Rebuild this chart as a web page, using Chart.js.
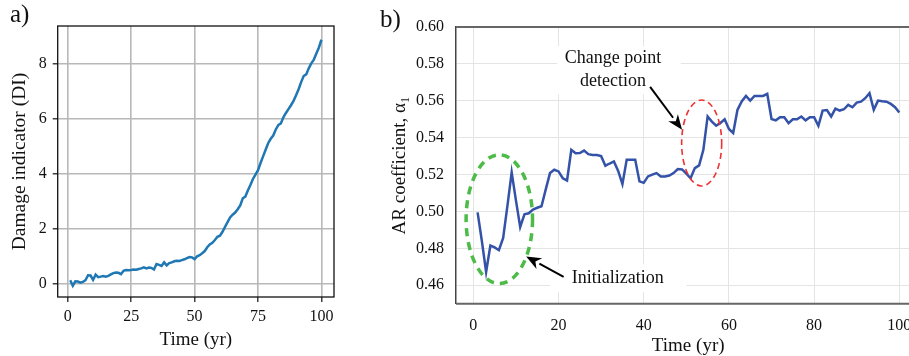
<!DOCTYPE html>
<html>
<head>
<meta charset="utf-8">
<script src="https://cdn.jsdelivr.net/npm/chart.js@4.4.1/dist/chart.umd.min.js"></script>
<style>
  html, body { margin: 0; padding: 0; background: #fff; overflow: hidden; width: 909px; height: 356px; }
  .panel { position: absolute; top: 0; }
  .etiqueta { position: absolute; font-family: "Liberation Serif", serif; color: #111; line-height: 1; }
</style>
</head>
<body>
<canvas id="graficoA" class="panel" width="345" height="356" style="left:0px"></canvas>
<canvas id="graficoB" class="panel" width="555" height="356" style="left:380px"></canvas>
<div class="etiqueta" style="left:10px; top:1px; font-size:25px;">a)</div>
<div class="etiqueta" style="left:380px; top:6px; font-size:25px;">b)</div>
<script>
// años de 1 a 100
const anios = [];
for (let i = 1; i <= 100; i++) anios.push(i);

// a) indicador de daño
const indicadorDano = [
  0.14, -0.06, 0.10, 0.09, 0.05, 0.08, 0.14, 0.32, 0.31, 0.15,
  0.34, 0.25, 0.27, 0.29, 0.27, 0.30, 0.35, 0.40, 0.42, 0.41,
  0.36, 0.48, 0.51, 0.50, 0.51, 0.53, 0.52, 0.55, 0.57, 0.61,
  0.57, 0.60, 0.59, 0.53, 0.73, 0.70, 0.66, 0.79, 0.68, 0.76,
  0.79, 0.83, 0.85, 0.84, 0.87, 0.90, 0.94, 0.98, 0.97, 0.91,
  1.01, 1.05, 1.12, 1.20, 1.34, 1.44, 1.50, 1.60, 1.72, 1.76,
  1.90, 2.08, 2.25, 2.42, 2.52, 2.60, 2.72, 2.86, 3.12, 3.18,
  3.40, 3.60, 3.82, 3.98, 4.14, 4.40, 4.64, 4.88, 5.12, 5.28,
  5.40, 5.62, 5.78, 5.84, 6.06, 6.22, 6.36, 6.50, 6.66, 6.86,
  7.08, 7.34, 7.56, 7.62, 7.84, 8.02, 8.16, 8.38, 8.60, 8.88
];

// b) coeficiente AR
const coefAR = [
  0.4995, 0.4840, 0.4672, 0.4815, 0.4805, 0.4790, 0.4856, 0.5030, 0.5212, 0.5060,
  0.4916, 0.4985, 0.4990, 0.5010, 0.5020, 0.5028, 0.5120, 0.5208, 0.5226, 0.5217,
  0.5180, 0.5168, 0.5334, 0.5316, 0.5317, 0.5330, 0.5311, 0.5306, 0.5306, 0.5300,
  0.5248, 0.5260, 0.5271, 0.5220, 0.5148, 0.5280, 0.5280, 0.5280, 0.5163, 0.5155,
  0.5190, 0.5200, 0.5208, 0.5190, 0.5190, 0.5195, 0.5208, 0.5230, 0.5228, 0.5205,
  0.5180, 0.5235, 0.5250, 0.5334, 0.5515, 0.5487, 0.5465, 0.5480, 0.5500, 0.5447,
  0.5425, 0.5550, 0.5596, 0.5626, 0.5601, 0.5626, 0.5626, 0.5626, 0.5637, 0.5501,
  0.5494, 0.5511, 0.5511, 0.5479, 0.5500, 0.5500, 0.5515, 0.5494, 0.5511, 0.5511,
  0.5464, 0.5547, 0.5550, 0.5515, 0.5558, 0.5547, 0.5554, 0.5578, 0.5565, 0.5590,
  0.5595, 0.5614, 0.5641, 0.5551, 0.5601, 0.5597, 0.5595, 0.5583, 0.5565, 0.5536
];

// ticks
const ticksXA = [0, 25, 50, 75, 100];
const ticksYA = [0, 2, 4, 6, 8];
const ticksXB = [0, 20, 40, 60, 80, 100];
const ticksYB = [0.46, 0.48, 0.50, 0.52, 0.54, 0.56, 0.58, 0.60];

const fuente = '"Liberation Serif", serif';

function puntos(valores) {
  return anios.map((a, i) => ({ x: a, y: valores[i] }));
}

function fijarTicks(lista) {
  return (scale) => { scale.ticks = lista.map(v => ({ value: v })); };
}

/*************  a)  ***************/
const marcoA = {
  id: 'marcoA',
  afterDatasetsDraw(chart) {
    const { ctx, chartArea: c } = chart;
    ctx.save();
    ctx.strokeStyle = '#111';
    ctx.lineWidth = 1.3;
    ctx.strokeRect(c.left, c.top, c.right - c.left, c.bottom - c.top);
    ctx.restore();
  }
};

new Chart(document.getElementById('graficoA'), {
  type: 'line',
  data: {
    datasets: [{
      data: puntos(indicadorDano),
      borderColor: '#1f77b4',
      borderWidth: 2.5,
      pointRadius: 0,
      tension: 0
    }]
  },
  options: {
    responsive: false,
    animation: false,
    devicePixelRatio: 1,
    layout: { padding: { top: 26, right: 11, left: 0, bottom: 0 } },
    plugins: { legend: { display: false }, tooltip: { enabled: false } },
    scales: {
      x: {
        type: 'linear', min: -3.95, max: 104.95,
        afterBuildTicks: fijarTicks(ticksXA),
        afterFit: (s) => { s.height = 59; },
        border: { display: false },
        grid: { color: '#b8b8b8', lineWidth: 1.6, tickColor: '#111', tickLength: 5, tickWidth: 1.2 },
        ticks: { color: '#111', font: { family: fuente, size: 16 }, padding: 5, maxRotation: 0 },
        title: { display: true, text: 'Time (yr)', color: '#111', font: { family: fuente, size: 19, lineHeight: 1 }, padding: { top: 0, bottom: 6.5 } }
      },
      y: {
        type: 'linear', min: -0.47, max: 9.38,
        afterBuildTicks: fijarTicks(ticksYA),
        afterFit: (s) => { s.width = 57.7; },
        border: { display: false },
        grid: { color: '#b8b8b8', lineWidth: 1.6, tickColor: '#111', tickLength: 5, tickWidth: 1.2 },
        ticks: { color: '#111', font: { family: fuente, size: 16 }, padding: 6 },
        title: { display: true, text: 'Damage indicator (DI)', color: '#111', font: { family: fuente, size: 19.5, lineHeight: 1 }, padding: { top: 10.5, bottom: 0 } }
      }
    }
  },
  plugins: [marcoA]
});

/*************  b)  ***************/
// anotaciones en coordenadas de datos
const elipseVerde = { x: 6.1, y: 0.4958, rx: 7.8, ry: 0.0349 };
const elipseRoja = { x: 53.6, y: 0.5371, rx: 4.7, ry: 0.0233 };

function flecha(ctx, x1, y1, x2, y2) {
  const ang = Math.atan2(y2 - y1, x2 - x1);
  const largo = 15, ancho = 6;
  const bx = x2 - largo * Math.cos(ang), by = y2 - largo * Math.sin(ang);
  ctx.beginPath();
  ctx.moveTo(x1, y1);
  ctx.lineTo(bx, by);
  ctx.strokeStyle = '#000';
  ctx.lineWidth = 2;
  ctx.stroke();
  ctx.beginPath();
  ctx.moveTo(x2, y2);
  ctx.lineTo(bx + ancho * Math.sin(ang), by - ancho * Math.cos(ang));
  ctx.lineTo(x2 - (largo * 0.7) * Math.cos(ang), y2 - (largo * 0.7) * Math.sin(ang));
  ctx.lineTo(bx - ancho * Math.sin(ang), by + ancho * Math.cos(ang));
  ctx.closePath();
  ctx.fillStyle = '#000';
  ctx.fill();
}

function elipse(ctx, chart, e, color, ancho, guion) {
  const sx = chart.scales.x, sy = chart.scales.y;
  const cx = sx.getPixelForValue(e.x), cy = sy.getPixelForValue(e.y);
  const rx = sx.getPixelForValue(e.x + e.rx) - cx;
  const ry = cy - sy.getPixelForValue(e.y + e.ry);
  ctx.save();
  ctx.beginPath();
  ctx.ellipse(cx, cy, rx, ry, 0, 0, Math.PI * 2);
  ctx.strokeStyle = color;
  ctx.lineWidth = ancho;
  ctx.setLineDash(guion);
  ctx.stroke();
  ctx.restore();
}

const anotacionesB = {
  id: 'anotacionesB',
  beforeDatasetsDraw(chart) {
    const { ctx } = chart;
    const sx = chart.scales.x, sy = chart.scales.y;
    ctx.save();
    ctx.fillStyle = '#fff';
    // cajas blancas detrás de los textos
    let x0 = sx.getPixelForValue(19.7), x1 = sx.getPixelForValue(48.7);
    let y0 = sy.getPixelForValue(0.5895), y1 = sy.getPixelForValue(0.5635);
    ctx.fillRect(x0, y0, x1 - x0, y1 - y0);
    x0 = sx.getPixelForValue(18); x1 = sx.getPixelForValue(50);
    y0 = sy.getPixelForValue(0.4713); y1 = sy.getPixelForValue(0.4563);
    ctx.fillRect(x0, y0, x1 - x0, y1 - y0);
    ctx.restore();
  },
  afterDatasetsDraw(chart) {
    const { ctx, chartArea: c } = chart;
    const sx = chart.scales.x, sy = chart.scales.y;
    ctx.save();
    // líneas de arriba y abajo
    ctx.strokeStyle = '#666';
    ctx.lineWidth = 2;
    ctx.beginPath();
    ctx.moveTo(c.left, c.top); ctx.lineTo(c.right, c.top);
    ctx.moveTo(c.left, c.bottom); ctx.lineTo(c.right, c.bottom);
    ctx.stroke();

    elipse(ctx, chart, elipseVerde, '#4cbb47', 3.5, [8, 6]);
    elipse(ctx, chart, elipseRoja, '#ee3030', 1.6, [6, 4]);

    ctx.fillStyle = '#111';
    ctx.font = '18px ' + fuente;
    ctx.textAlign = 'center';
    ctx.textBaseline = 'middle';
    const tx = sx.getPixelForValue(32.8);
    ctx.fillText('Change point', tx, sy.getPixelForValue(0.5831));
    ctx.fillText('detection', tx, sy.getPixelForValue(0.5705));
    ctx.textAlign = 'left';
    ctx.fillText('Initialization', sx.getPixelForValue(23.1), sy.getPixelForValue(0.4639));

    flecha(ctx, sx.getPixelForValue(41.5), sy.getPixelForValue(0.5675), sx.getPixelForValue(49.0), sy.getPixelForValue(0.5443));
    flecha(ctx, sx.getPixelForValue(21.2), sy.getPixelForValue(0.4646), sx.getPixelForValue(12.4), sy.getPixelForValue(0.4756));
    ctx.restore();
  }
};

new Chart(document.getElementById('graficoB'), {
  type: 'line',
  data: {
    datasets: [{
      data: puntos(coefAR),
      borderColor: '#3352a8',
      borderWidth: 2.5,
      pointRadius: 0,
      tension: 0
    }]
  },
  options: {
    responsive: false,
    animation: false,
    devicePixelRatio: 1,
    layout: { padding: { top: 27, right: 14.6, left: 0, bottom: 0 } },
    plugins: { legend: { display: false }, tooltip: { enabled: false } },
    scales: {
      x: {
        type: 'linear', min: -4.07, max: 104.95,
        afterBuildTicks: fijarTicks(ticksXB),
        afterFit: (s) => { s.height = 52.3; },
        border: { display: false },
        grid: { color: '#e4e4e4', lineWidth: 1, drawTicks: false },
        ticks: { color: '#111', font: { family: fuente, size: 16 }, padding: 12, maxRotation: 0 },
        title: { display: true, text: 'Time (yr)', color: '#111', font: { family: fuente, size: 19, lineHeight: 1 }, padding: { top: 0, bottom: 0 } }
      },
      y: {
        type: 'linear', min: 0.45, max: 0.60,
        afterBuildTicks: fijarTicks(ticksYB),
        afterFit: (s) => { s.width = 76; },
        border: { display: true, color: '#444', width: 1.5 },
        grid: { color: '#e4e4e4', lineWidth: 1, drawTicks: false },
        ticks: { color: '#111', font: { family: fuente, size: 16 }, padding: 12, callback: (v) => v.toFixed(2) },
        title: { display: true, text: 'AR coefficient, α₁', color: '#111', font: { family: fuente, size: 19, lineHeight: 1 }, padding: { top: 10.5, bottom: 0 } }
      }
    }
  },
  plugins: [anotacionesB]
});
</script>
</body>
</html>
